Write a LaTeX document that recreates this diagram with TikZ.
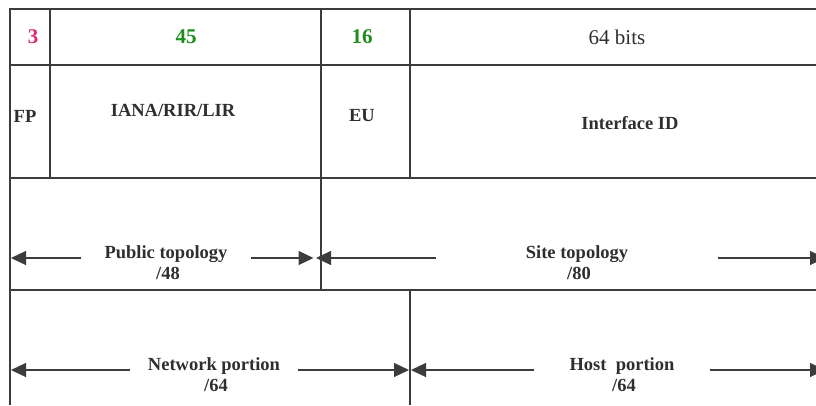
\documentclass[tikz,border=0pt]{standalone}
\usepackage{fontspec}
\setmainfont{Liberation Serif}
\usetikzlibrary{arrows.meta,positioning}
\definecolor{ink}{HTML}{2E2E2E}
\definecolor{rule}{HTML}{3C3C3C}
\definecolor{fpred}{HTML}{DC2A78}
\definecolor{bitgreen}{HTML}{1E8C1E}

\begin{document}
\begin{tikzpicture}[
  x=1pt, y=-1pt,
  every node/.style={inner sep=0pt, text=ink},
  grid/.style={draw=rule, line width=1.3pt},
  num/.style={font=\fontsize{21}{24}\selectfont\bfseries},
  lbl/.style={font=\fontsize{18.5}{21}\selectfont\bfseries},
  pfx/.style={lbl, anchor=base, xshift=2pt, yshift=-21pt},
  span/.style={draw=rule, line width=1.2pt, -{Triangle[length=15pt, width=14pt]}}]

  \useasboundingbox (0,0) rectangle (816,405);

  % table lines
  \draw[grid] (10,405) -- (10,9) -- (816,9);
  \draw[grid] (10,65)  -- (816,65);
  \draw[grid] (10,178) -- (816,178);
  \draw[grid] (10,290) -- (816,290);
  \draw[grid] (50,9)   -- (50,178);
  \draw[grid] (321,9)  -- (321,290);
  \draw[grid] (410,9)  -- (410,178);
  \draw[grid] (410,290) -- (410,405);

  % bit counts
  \node[num, text=fpred]    (b3)  at (33,37)  {3};
  \node[num, text=bitgreen] (b45) at (186,37) {45};
  \node[num, text=bitgreen] (b16) at (362,37) {16};
  \node[font=\fontsize{21}{24}\selectfont] (b64) at (617,37) {64 bits};

  % field names
  \node[lbl] (fp)   at (25,116)  {FP};
  \node[lbl] (iana) at (173,110) {IANA/RIR/LIR};
  \node[lbl] (eu)   at (362,116) {EU};
  \node[lbl] (iid)  at (630,123) {Interface ID};

  % span ends
  \coordinate (publ)  at (11,258);
  \coordinate (pubr)  at (313.5,258);
  \coordinate (sitel) at (316,258);
  \coordinate (siter) at (825,258);
  \coordinate (netl)  at (11,370);
  \coordinate (netr)  at (409,370);
  \coordinate (hostl) at (411,370);
  \coordinate (hostr) at (825,370);

  % spans
  \node[lbl, anchor=base, inner xsep=23pt] (pub) at (166,258) {Public topology};
  \node[pfx] (pubp) at (pub.base) {/48};
  \node[lbl, anchor=base, inner xsep=90pt] (site) at (577,258) {Site topology};
  \node[pfx] (sitep) at (site.base) {/80};
  \node[lbl, anchor=base, inner xsep=18pt] (net) at (214,370) {Network portion};
  \node[pfx] (netp) at (net.base) {/64};
  \node[lbl, anchor=base, inner xsep=35pt] (host) at (622,370) {Host\ \ portion};
  \node[pfx] (hostp) at (host.base) {/64};

  \draw[span] (pub.base west)  -- (publ);
  \draw[span] (pub.base east)  -- (pubr);
  \draw[span] (site.base west) -- (sitel);
  \draw[span] (site.base east) -- (siter);
  \draw[span] (net.base west)  -- (netl);
  \draw[span] (net.base east)  -- (netr);
  \draw[span] (host.base west) -- (hostl);
  \draw[span] (host.base east) -- (hostr);
\end{tikzpicture}
\end{document}
